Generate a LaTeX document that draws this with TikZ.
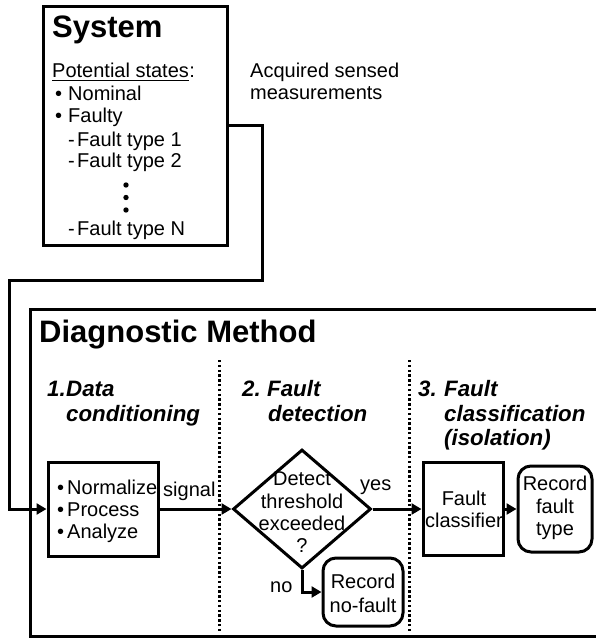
\documentclass[tikz,border=0pt]{standalone}
\usepackage{fontspec}
\setmainfont{Liberation Sans}
\usetikzlibrary{shapes.geometric,arrows.meta}

\begin{document}
\begin{tikzpicture}[x=1pt,y=-1pt,
  box/.style={draw,line width=3pt,inner sep=0pt},
  rbox/.style={box,rounded corners=13pt},
  conn/.style={line width=3pt},
  arr/.style={conn,-{Triangle[length=10pt,width=11pt]}},
  txt/.style={anchor=base west,inner sep=0pt,font=\fontsize{20}{22}\selectfont},
  ctxt/.style={txt,anchor=base},
  head/.style={anchor=base west,inner sep=0pt,font=\fontsize{31}{36}\selectfont\bfseries},
  sec/.style={anchor=base west,inner sep=0pt,font=\fontsize{22.3}{25}\selectfont\bfseries\itshape},
  sepline/.style={line width=3pt,dash pattern=on 2.4pt off 2.4pt}
]
\useasboundingbox (0,0) rectangle (595,640);

% ---- System block ----
\node[box,minimum width=184pt,minimum height=239pt] (sys) at (135,125.5) {};
\node[head] (systitle) at (52,37) {System};
\node[txt] (pot) at (52,77) {Potential states};
\node[txt] (potc) at (pot.base east) {:};
\draw[line width=1.3pt] ([yshift=-3.5pt]pot.base west) -- ([yshift=-3.5pt]pot.base east);
\node[txt] (b1) at (55,100) {•};
\node[txt] (nom) at (68,100) {Nominal};
\node[txt] (b2) at (55,122) {•};
\node[txt] (fty) at (68,122) {Faulty};
\node[txt] (d1) at (68,146) {-};
\node[txt] (ft1) at (77,146) {Fault type 1};
\node[txt] (d2) at (68,167) {-};
\node[txt] (ft2) at (77,167) {Fault type 2};
\fill (126,185) circle (2.7pt) (126,197.5) circle (2.7pt) (126,210) circle (2.7pt);
\node[txt] (d3) at (68,235) {-};
\node[txt] (ftn) at (77,235) {Fault type N};

\node[txt] (acq1) at (250,77) {Acquired sensed};
\node[txt] (acq2) at (250,99) {measurements};

% ---- Diagnostic method frame ----
\draw[conn] (597,309.5) -- (30.5,309.5) -- (30.5,636.5) -- (597,636.5);
\node[head] (dmtitle) at (39,342) {Diagnostic Method};

\draw[sepline] (219,360) -- (219,632);
\draw[sepline] (409,360) -- (409,632);

% stage headings
\node[sec] (s1n) at (47,396) {1.};
\node[sec] (s1a) at (66,396) {Data};
\node[sec] (s1b) at (66,421) {conditioning};
\node[sec] (s2n) at (242,396) {2.};
\node[sec] (s2a) at (267,396) {Fault};
\node[sec] (s2b) at (268,421) {detection};
\node[sec] (s3n) at (418,396) {3.};
\node[sec] (s3a) at (444,396) {Fault};
\node[sec] (s3b) at (444,421) {classification};
\node[sec] (s3c) at (444,445) {(isolation)};

% ---- Stage 1: conditioning ----
\node[box,minimum width=110pt,minimum height=94pt] (norm) at (103,509) {};
\node[txt] (nb1) at (57,494) {•};
\node[txt] (nt1) at (67,494) {Normalize};
\node[txt] (nb2) at (57,516) {•};
\node[txt] (nt2) at (67,516) {Process};
\node[txt] (nb3) at (57,538) {•};
\node[txt] (nt3) at (67,538) {Analyze};
\node[txt] (sig) at (163,496) {signal};

% ---- Stage 2: detection ----
\node[draw,diamond,line width=3pt,inner sep=0pt,minimum width=138pt,minimum height=119pt] (dia) at (302,509) {};
\node[ctxt] (q1) at (302,485) {Detect};
\node[ctxt] (q2) at (302,508) {threshold};
\node[ctxt] (q3) at (302,530) {exceeded};
\node[ctxt] (q4) at (302,552) {?};
\node[txt] (yes) at (360,490) {yes};
\node[txt] (no) at (270,592) {no};

\node[rbox,minimum width=80pt,minimum height=68pt] (nofault) at (363,592) {};
\node[ctxt] (nf1) at (363,588) {Record};
\node[ctxt] (nf2) at (363,612) {no-fault};

% ---- Stage 3: classification ----
\node[box,minimum width=80pt,minimum height=93pt] (cls) at (463,509) {};
\node[ctxt] (c1) at (464,505) {Fault};
\node[ctxt] (c2) at (464,527) {classifier};

\node[rbox,minimum width=74pt,minimum height=86pt] (rft) at (555,509) {};
\node[ctxt] (r1) at (555,490) {Record};
\node[ctxt] (r2) at (555,513) {fault};
\node[ctxt] (r3) at (555,535) {type};

% ---- connectors ----
\coordinate (k1) at (262,280);
\coordinate (k2) at (9,509);
\draw[arr] (sys.east) -| (k1) -| (k2) -- (norm.west);
\draw[arr] (norm.east) -- (dia.west);
\draw[arr] (dia.east) -- (cls.west);
\draw[arr] (cls.east) -- (rft.west);
\draw[arr] (dia.south) |- (nofault.west);
\end{tikzpicture}
\end{document}
